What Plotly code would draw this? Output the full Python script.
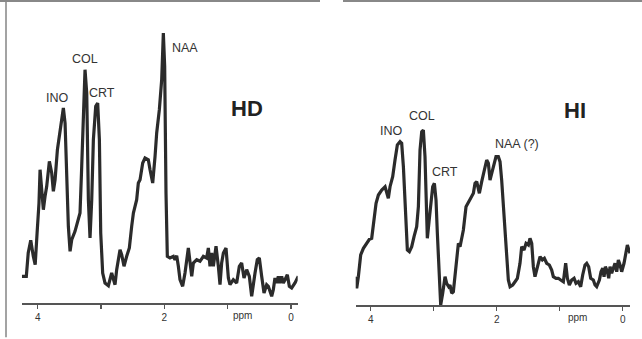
import plotly.graph_objects as go

# ---- HD spectrum (chemical shift in ppm, intensity in a.u.) ----
hd_ppm = [4.25, 4.18, 4.15, 4.11, 4.07, 4.04, 4.01, 3.98, 3.963, 3.937, 3.911, 3.884, 3.858, 3.816,
          3.779, 3.753, 3.726, 3.689, 3.647, 3.595, 3.568, 3.542, 3.516, 3.489, 3.463, 3.411, 3.358,
          3.332, 3.305, 3.279, 3.253, 3.226, 3.2, 3.174, 3.147, 3.121, 3.084, 3.053, 3.026, 3.005,
          2.974, 2.937, 2.884, 2.832, 2.805, 2.779, 2.753, 2.7, 2.674, 2.637, 2.595, 2.553, 2.516,
          2.489, 2.437, 2.411, 2.384, 2.342, 2.305, 2.253, 2.226, 2.184, 2.147, 2.121, 2.079, 2.042,
          2.016, 1.995, 1.974, 1.953, 1.911, 1.858, 1.832, 1.805, 1.779, 1.753, 1.711, 1.674, 1.621,
          1.595, 1.568, 1.542, 1.489, 1.437, 1.384, 1.332, 1.305, 1.279, 1.253, 1.226, 1.184, 1.147,
          1.121, 1.095, 1.068, 1.026, 0.989, 0.963, 0.911, 0.858, 0.816, 0.779, 0.742, 0.7, 0.658,
          0.621, 0.595, 0.568, 0.532, 0.5, 0.463, 0.426, 0.384, 0.358, 0.305, 0.279, 0.253, 0.226,
          0.2, 0.174, 0.147, 0.121, 0.095, 0.058, 0.026, -0.011, -0.063, -0.116]
hd_int = [26.7, 26.7, 50.0, 62.7, 46.7, 38.3, 70.0, 100.0, 133.3, 116.7, 93.3, 106.7, 116.7, 141.7,
          130.0, 111.7, 123.3, 153.3, 170.0, 195.0, 180.0, 130.0, 76.7, 51.7, 63.3, 71.7, 83.3,
          90.0, 136.7, 196.7, 233.3, 210.0, 103.3, 65.0, 103.3, 163.3, 196.7, 200.0, 163.3, 70.0,
          30.0, 20.0, 17.3, 30.0, 23.3, 18.3, 33.3, 53.3, 48.3, 36.7, 46.7, 55.0, 76.7,
          90.0, 103.3, 120.0, 123.3, 140.0, 145.0, 143.3, 133.3, 120.0, 146.7, 170.0, 193.3, 223.3,
          270.0, 236.7, 110.0, 46.7, 45.0, 46.7, 43.3, 47.3, 36.7, 23.3, 16.7, 30.0, 55.0,
          43.3, 26.7, 40.0, 43.3, 41.7, 46.7, 45.0, 55.0, 36.7, 50.0, 36.7, 56.7, 36.7,
          18.3, 40.0, 50.0, 55.0, 25.0, 18.3, 23.3, 20.0, 36.7, 40.0, 25.0, 33.3, 26.7,
          6.7, 20.0, 30.0, 43.3, 45.0, 26.7, 10.0, 18.3, 16.7, 6.7, 13.3, 25.0, 20.0,
          26.7, 20.0, 26.7, 20.0, 23.3, 28.3, 16.7, 15.0, 20.0, 26.7]

# ---- HI spectrum ----
hi_ppm = [4.249, 4.222, 4.196, 4.159, 4.116, 4.063, 4.021, 3.984, 3.947, 3.915, 3.878, 3.825, 3.772,
          3.746, 3.72, 3.693, 3.651, 3.614, 3.577, 3.534, 3.508, 3.481, 3.455, 3.418, 3.386, 3.349,
          3.312, 3.27, 3.243, 3.217, 3.19, 3.164, 3.138, 3.122, 3.101, 3.074, 3.048, 3.016, 2.989,
          2.963, 2.942, 2.915, 2.889, 2.857, 2.82, 2.794, 2.762, 2.741, 2.714, 2.688, 2.661, 2.635,
          2.608, 2.582, 2.556, 2.529, 2.487, 2.45, 2.413, 2.37, 2.344, 2.317, 2.275, 2.238, 2.212,
          2.185, 2.159, 2.132, 2.106, 2.079, 2.053, 2.011, 1.974, 1.947, 1.921, 1.884, 1.852, 1.815,
          1.788, 1.746, 1.709, 1.672, 1.63, 1.603, 1.566, 1.534, 1.497, 1.471, 1.444, 1.418, 1.392,
          1.365, 1.339, 1.312, 1.275, 1.243, 1.206, 1.164, 1.127, 1.101, 1.058, 1.021, 0.984, 0.942,
          0.905, 0.878, 0.847, 0.81, 0.772, 0.741, 0.704, 0.667, 0.635, 0.598, 0.571, 0.54, 0.508,
          0.466, 0.439, 0.413, 0.37, 0.344, 0.317, 0.296, 0.275, 0.243, 0.222, 0.201, 0.175, 0.148,
          0.122, 0.095, 0.069, 0.042, 0.016, -0.021, -0.053, -0.074, -0.09, -0.116]
hi_int = [28.3, 16.7, 28.3, 50.0, 56.7, 61.7, 65.7, 66.7, 85.0, 101.7, 110.0, 115.0, 118.3,
          113.3, 106.7, 118.3, 128.3, 145.0, 160.0, 163.3, 161.7, 138.3, 98.3, 55.0, 53.3, 58.3,
          68.3, 78.3, 98.3, 155.0, 173.3, 175.0, 148.3, 98.3, 66.7, 83.3, 98.3, 118.3, 121.7,
          105.0, 71.7, 31.7, 0.0, 11.7, 28.3, 21.7, 18.3, 20.0, 11.7, 13.3, 31.7, 51.7,
          61.7, 58.3, 65.0, 75.0, 98.3, 103.3, 106.7, 111.7, 121.7, 123.3, 111.7, 123.3, 131.7,
          138.3, 145.0, 141.7, 125.0, 131.7, 138.3, 148.3, 148.3, 143.3, 125.0, 88.3, 55.0, 25.0,
          18.3, 20.0, 23.3, 26.7, 41.7, 58.3, 55.0, 61.7, 60.0, 66.7, 61.7, 38.3, 28.3,
          35.0, 41.7, 48.3, 45.0, 46.7, 41.7, 40.0, 35.0, 28.3, 26.7, 26.7, 25.0, 23.3,
          41.7, 26.7, 20.0, 25.0, 26.7, 21.7, 23.3, 18.3, 30.0, 40.0, 41.7, 38.3, 26.7,
          25.0, 20.0, 18.3, 25.0, 33.3, 36.7, 28.3, 38.3, 33.3, 26.7, 38.3, 31.7, 36.7,
          41.7, 33.3, 45.0, 40.0, 33.3, 41.7, 51.7, 60.0, 56.7, 51.7]

tick_vals = [4, 3, 2, 1, 0]
tick_text = ["4", "", "2", "", "0"]

# peak labels: (text, ppm, intensity)
hd_labels = [("INO", 3.68, 205), ("COL", 3.25, 244), ("CRT", 2.98, 210), ("NAA", 1.67, 255)]
hi_labels = [("INO", 3.67, 174), ("COL", 3.19, 189), ("CRT", 2.82, 133), ("NAA (?)", 1.68, 161)]

W, H = 642, 339
FONT = "Liberation Sans, Arial, sans-serif"
LINE = "#2b2b2b"

fig = go.Figure()
fig.add_trace(go.Scatter(x=hd_ppm, y=hd_int, mode="lines", xaxis="x", yaxis="y",
                         line=dict(color=LINE, width=3.2), showlegend=False, hoverinfo="skip"))
fig.add_trace(go.Scatter(x=hi_ppm, y=hi_int, mode="lines", xaxis="x2", yaxis="y2",
                         line=dict(color=LINE, width=3.2), showlegend=False, hoverinfo="skip"))

xcommon = dict(showgrid=False, zeroline=False, showline=True, linecolor="#555", linewidth=1.5,
               ticks="outside", ticklen=4, tickwidth=1.2, tickcolor="#555",
               tickvals=tick_vals, ticktext=tick_text,
               tickfont=dict(family=FONT, size=10, color="#333"), fixedrange=True)
ycommon = dict(visible=False, showgrid=False, zeroline=False, fixedrange=True)

fig.update_layout(
    width=W, height=H, margin=dict(l=0, r=0, t=0, b=0),
    paper_bgcolor="white", plot_bgcolor="rgba(0,0,0,0)",
    xaxis=dict(domain=[21.7 / W, 297.7 / W], range=[4.253, -0.106], anchor="y", **xcommon),
    yaxis=dict(domain=[(H - 303) / H, 1.0], range=[0, 303], anchor="x", **ycommon),
    xaxis2=dict(domain=[355.7 / W, 630 / W], range=[4.238, -0.116], anchor="y2", **xcommon),
    yaxis2=dict(domain=[(H - 305) / H, 1.0], range=[0, 305], anchor="x2", **ycommon),
)

ann = []
for t, px, py in hd_labels:
    ann.append(dict(text=t, x=px, y=py, xref="x", yref="y", showarrow=False,
                    font=dict(family=FONT, size=12.5, color="#333")))
for t, px, py in hi_labels:
    ann.append(dict(text=t, x=px, y=py, xref="x2", yref="y2", showarrow=False,
                    font=dict(family=FONT, size=12.5, color="#333")))
ann.append(dict(text="<b>HD</b>", x=0.69, y=195, xref="x", yref="y", showarrow=False,
                font=dict(family=FONT, size=22, color="#222")))
ann.append(dict(text="<b>HI</b>", x=0.76, y=195, xref="x2", yref="y2", showarrow=False,
                font=dict(family=FONT, size=22, color="#222")))
ann.append(dict(text="ppm", x=0.76, y=-0.066, xref="x", yref="y domain", showarrow=False,
                font=dict(family=FONT, size=10, color="#333")))
ann.append(dict(text="ppm", x=0.71, y=-0.066, xref="x2", yref="y2 domain", showarrow=False,
                font=dict(family=FONT, size=10, color="#333")))
fig.update_layout(annotations=ann)

# frame lines of the scanned panels
fig.update_layout(shapes=[
    dict(type="line", xref="paper", yref="paper", x0=6 / W, x1=6 / W, y0=0.005, y1=1,
         line=dict(color="#666", width=1.2)),
    dict(type="line", xref="paper", yref="paper", x0=0, x1=320 / W, y0=1 - 1 / H, y1=1 - 1 / H,
         line=dict(color="#888", width=2)),
    dict(type="line", xref="paper", yref="paper", x0=343 / W, x1=1, y0=1 - 1 / H, y1=1 - 1 / H,
         line=dict(color="#888", width=2)),
])

fig.write_html("out.html", config={"displayModeBar": False, "staticPlot": True},
               post_script="document.body.style.margin='0';document.body.style.overflow='hidden';")
